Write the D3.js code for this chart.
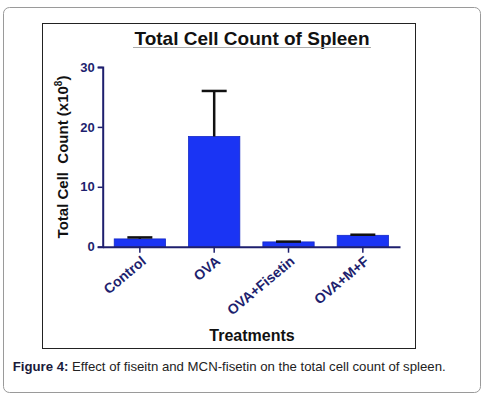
<!DOCTYPE html>
<html>
<head>
<meta charset="utf-8">
<script src="https://cdn.jsdelivr.net/npm/d3@7"></script>
<style>
  body { margin: 0; background: #fff; }
  svg { display: block; font-family: "Liberation Sans", Arial, sans-serif; }
</style>
</head>
<body>
<div id="chart"></div>
<script>
// values
var categories = ["Control", "OVA", "OVA+Fisetin", "OVA+M+F"];
var means = [1.3, 18.4, 0.8, 1.9];
var upperErrors = [0.25, 7.6, 0.05, 0.1];
var yTicks = [0, 10, 20, 30];

var W = 485, H = 399;
var navy = "#1e1f6e";

var svg = d3.select("#chart").append("svg")
    .attr("width", W)
    .attr("height", H);

// outer rounded frame
svg.append("rect")
    .attr("x", 3.5).attr("y", 7.5)
    .attr("width", 477).attr("height", 385)
    .attr("rx", 6)
    .attr("fill", "#fff")
    .attr("stroke", "#9a9a9a")
    .attr("stroke-width", 1);

// inner chart frame
svg.append("rect")
    .attr("x", 42.5).attr("y", 23.5)
    .attr("width", 373).attr("height", 325)
    .attr("fill", "#fff")
    .attr("stroke", "#222")
    .attr("stroke-width", 1);

var x = d3.scaleBand()
    .domain(categories)
    .range([102.7, 400])
    .paddingInner(0.31)
    .paddingOuter(0.155);

var y = d3.scaleLinear()
    .domain([0, 30])
    .range([246.7, 67]);

// bars
svg.selectAll(".bar")
    .data(categories)
  .enter().append("rect")
    .attr("class", "bar")
    .attr("x", function(d) { return x(d); })
    .attr("width", x.bandwidth())
    .attr("y", function(d, i) { return y(means[i]); })
    .attr("height", function(d, i) { return y(0) - y(means[i]); })
    .attr("fill", "#1a34f4")
    .attr("stroke", "#1428c6")
    .attr("stroke-width", 0.8);

// error bars (upper only)
var err = svg.selectAll(".err")
    .data(categories)
  .enter().append("g")
    .attr("class", "err")
    .attr("stroke", "#111")
    .attr("stroke-width", 2.5);

err.append("line")
    .attr("x1", function(d) { return x(d) + x.bandwidth() / 2; })
    .attr("x2", function(d) { return x(d) + x.bandwidth() / 2; })
    .attr("y1", function(d, i) { return y(means[i]); })
    .attr("y2", function(d, i) { return y(means[i] + upperErrors[i]); });

err.append("line")
    .attr("x1", function(d) { return x(d) + x.bandwidth() / 2 - 12.5; })
    .attr("x2", function(d) { return x(d) + x.bandwidth() / 2 + 12.5; })
    .attr("y1", function(d, i) { return y(means[i] + upperErrors[i]); })
    .attr("y2", function(d, i) { return y(means[i] + upperErrors[i]); });

// y axis
var yAxis = svg.append("g")
    .attr("transform", "translate(102.7,0)")
    .call(d3.axisLeft(y).tickValues(yTicks).tickSize(5).tickPadding(3));
yAxis.select(".domain").attr("stroke", navy).attr("stroke-width", 2);
yAxis.selectAll(".tick line").attr("stroke", navy).attr("stroke-width", 1.5);
yAxis.selectAll(".tick text")
    .attr("fill", navy)
    .style("font-size", "13px")
    .style("font-weight", "bold");

// x axis
var xAxis = svg.append("g")
    .attr("transform", "translate(0,246.7)")
    .call(d3.axisBottom(x).tickSize(6).tickSizeOuter(0));
xAxis.select(".domain").attr("stroke", navy).attr("stroke-width", 2);
xAxis.selectAll(".tick line").attr("stroke", navy).attr("stroke-width", 1.5);
xAxis.selectAll(".tick text")
    .attr("fill", navy)
    .style("font-size", "14px")
    .style("font-weight", "bold")
    .attr("text-anchor", "end")
    .attr("x", 0)
    .attr("y", 0)
    .attr("dy", 0)
    .attr("transform", "translate(7,16) rotate(-40)");

// title
svg.append("text")
    .attr("x", 252)
    .attr("y", 45)
    .attr("text-anchor", "middle")
    .style("font-size", "19px")
    .style("font-weight", "bold")
    .attr("fill", "#111")
    .text("Total Cell Count of Spleen");
svg.append("line")
    .attr("x1", 133).attr("x2", 371)
    .attr("y1", 47.5).attr("y2", 47.5)
    .attr("stroke", "#aaa")
    .attr("stroke-width", 1);

// y axis title
var yl = svg.append("text")
    .attr("transform", "translate(68,157) rotate(-90)")
    .attr("text-anchor", "middle")
    .style("font-size", "15px")
    .style("font-weight", "bold")
    .attr("fill", "#111");
yl.append("tspan").text("Total Cell\u00a0\u00a0Count (x10");
yl.append("tspan").attr("dy", -6).style("font-size", "10px").text("8");
yl.append("tspan").attr("dy", 6).text(")");

// x axis title
svg.append("text")
    .attr("x", 252)
    .attr("y", 341)
    .attr("text-anchor", "middle")
    .style("font-size", "16px")
    .style("font-weight", "bold")
    .attr("fill", "#111")
    .text("Treatments");

// caption
var cap = svg.append("text")
    .attr("x", 12.7)
    .attr("y", 371)
    .style("font-size", "13.2px")
    .attr("fill", "#222");
cap.append("tspan").style("font-weight", "bold").attr("fill", "#1a1a3a").text("Figure 4:");
cap.append("tspan").text(" Effect of fiseitn and MCN-fisetin on the total cell count of spleen.");
</script>
</body>
</html>
